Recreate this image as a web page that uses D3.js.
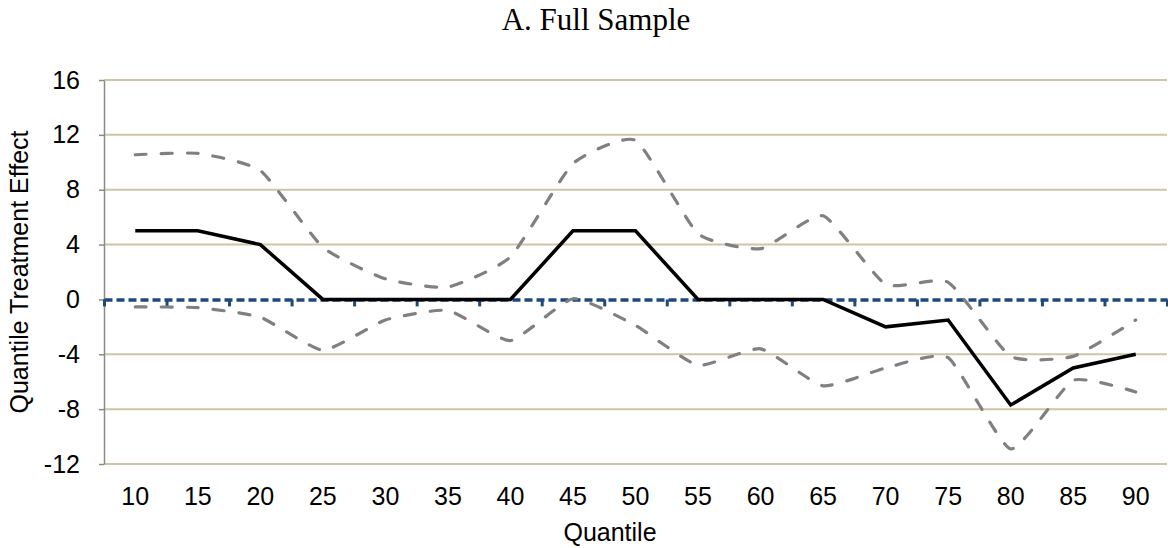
<!DOCTYPE html>
<html>
<head>
<meta charset="utf-8">
<script src="https://cdn.jsdelivr.net/npm/d3@7"></script>
<style>
  body { margin: 0; background: #fff; }
  svg { display: block; }
</style>
</head>
<body>
<div id="chart"></div>
<script>
// quantiles on the x axis
const quantiles = ["10","15","20","25","30","35","40","45","50","55","60","65","70","75","80","85","90"];
// point estimates (solid black)
const estimate = [5, 5, 4, 0, 0, 0, 0, 5, 5, 0, 0, 0, -2, -1.5, -7.7, -5, -4];
// upper / lower confidence bands (dashed grey)
const upper = [10.55, 10.65, 9.4, 3.8, 1.5, 0.9, 3.1, 9.9, 11.6, 4.8, 3.7, 6.1, 1.1, 1.25, -4.15, -4.15, -1.5];
const lower = [-0.55, -0.6, -1.3, -3.7, -1.5, -0.8, -3.0, 0.05, -1.9, -4.8, -3.6, -6.3, -5.0, -4.25, -10.9, -5.9, -6.75];
const yTicks = [-12, -8, -4, 0, 4, 8, 12, 16];

const W = 1168, H = 548;
const plotL = 104, plotR = 1167, plotT = 80, plotB = 464;
const font = "'Liberation Sans', Arial, sans-serif";

const svg = d3.select("#chart").append("svg").attr("width", W).attr("height", H);

const x = d3.scaleBand().domain(quantiles).range([plotL, plotR]).padding(0);
const xc = d => x(d) + x.bandwidth() / 2;
const y = d3.scaleLinear().domain([-12, 16]).range([plotB, plotT]);

// gridlines
svg.append("g").selectAll("line").data(yTicks.filter(d => d !== 0)).join("line")
  .attr("x1", plotL).attr("x2", plotR)
  .attr("y1", d => y(d)).attr("y2", d => y(d))
  .attr("stroke", "#cdc6a6").attr("stroke-width", 2);

// y axis
const yAxis = svg.append("g").attr("transform", "translate(" + plotL + ",0)")
  .call(d3.axisLeft(y).tickValues(yTicks).tickFormat(d => String(d))
    .tickSize(5).tickPadding(19).tickSizeOuter(0));
yAxis.select(".domain").attr("stroke", "#8a8a8a").attr("stroke-width", 1.5);
yAxis.selectAll(".tick line").attr("stroke", "#8a8a8a").attr("stroke-width", 1.5);
yAxis.selectAll("text").attr("font-family", font).attr("font-size", 25).attr("fill", "#000");

// x labels
const xAxis = svg.append("g").attr("transform", "translate(0," + plotB + ")")
  .call(d3.axisBottom(x).tickSize(0).tickPadding(0));
xAxis.select(".domain").remove();
xAxis.selectAll("text").attr("font-family", font).attr("font-size", 25).attr("fill", "#000")
  .attr("dy", 0).attr("y", 41);

// zero line with category boundary ticks
const xi = d3.scaleLinear().domain([0, quantiles.length]).range([plotL, plotR]);
const zeroAxis = svg.append("g").attr("transform", "translate(0," + y(0) + ")")
  .call(d3.axisBottom(xi).tickValues(d3.range(quantiles.length + 1)).tickSize(7).tickFormat("").tickSizeOuter(0));
zeroAxis.select(".domain").attr("stroke", "#1f497d").attr("stroke-width", 3.5).attr("stroke-dasharray", "8,4");
zeroAxis.selectAll(".tick line").attr("stroke", "#1f497d").attr("stroke-width", 3);

// bands
const smooth = d3.line().x((d, i) => xc(quantiles[i])).y(d => y(d)).curve(d3.curveCardinal.tension(0.5));
[upper, lower].forEach(s => {
  svg.append("path").datum(s).attr("d", smooth)
    .attr("fill", "none").attr("stroke", "#808080").attr("stroke-width", 3.2)
    .attr("stroke-dasharray", "11,15").attr("stroke-linecap", "round");
});

// estimate
const straight = d3.line().x((d, i) => xc(quantiles[i])).y(d => y(d));
svg.append("path").datum(estimate).attr("d", straight)
  .attr("fill", "none").attr("stroke", "#000").attr("stroke-width", 3.5);

// titles
svg.append("text").attr("x", 596).attr("y", 30).attr("text-anchor", "middle")
  .attr("font-family", "'Liberation Serif', 'Times New Roman', serif").attr("font-size", 31)
  .text("A. Full Sample");
svg.append("text").attr("x", 610).attr("y", 541).attr("text-anchor", "middle")
  .attr("font-family", font).attr("font-size", 25).text("Quantile");
svg.append("text").attr("transform", "translate(28," + (plotT + plotB) / 2 + ") rotate(-90)")
  .attr("text-anchor", "middle").attr("font-family", font).attr("font-size", 25)
  .text("Quantile Treatment Effect");
</script>
</body>
</html>
